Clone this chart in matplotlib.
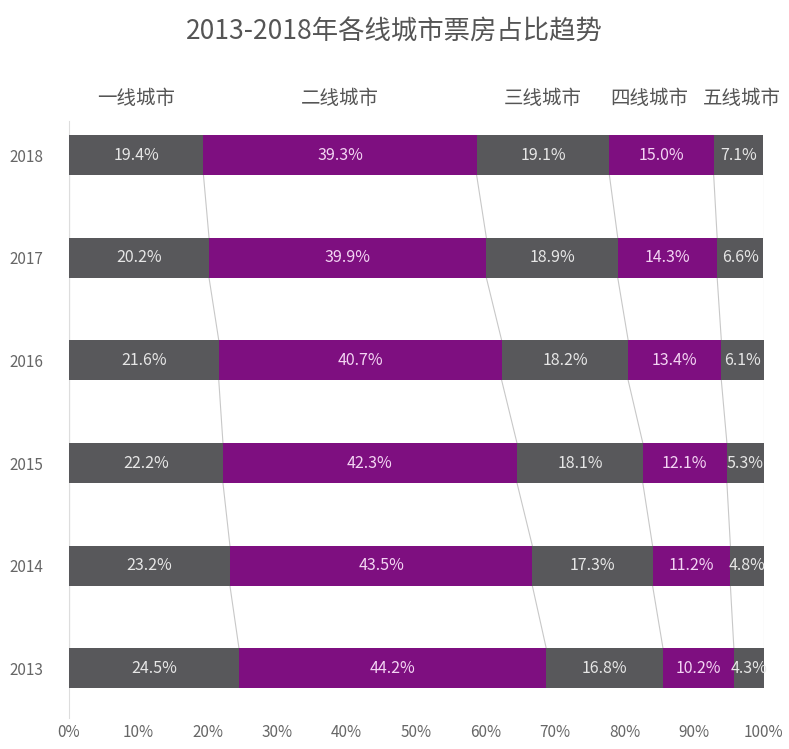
import matplotlib
matplotlib.use("Agg")
import matplotlib.pyplot as plt
import numpy as np

plt.rcParams["font.family"] = ["Noto Sans CJK SC", "DejaVu Sans"]

years = ["2013", "2014", "2015", "2016", "2017", "2018"]
tiers = ["一线城市", "二线城市", "三线城市", "四线城市", "五线城市"]
tier1 = [24.5, 23.2, 22.2, 21.6, 20.2, 19.4]
tier2 = [44.2, 43.5, 42.3, 40.7, 39.9, 39.3]
tier3 = [16.8, 17.3, 18.1, 18.2, 18.9, 19.1]
tier4 = [10.2, 11.2, 12.1, 13.4, 14.3, 15.0]
tier5 = [4.3, 4.8, 5.3, 6.1, 6.6, 7.1]

gray = "#58585b"
purple = "#7e0f80"
colors = [gray, purple, gray, purple, gray]
text_colors = ["#e6e6e6", "#f3d4f3", "#e6e6e6", "#f3d4f3", "#e6e6e6"]

series = np.array([tier1, tier2, tier3, tier4, tier5])
ypos = np.arange(len(years))
bar_h = 0.39

fig = plt.figure(figsize=(7.89, 7.49), dpi=100)
ax = fig.add_axes([0.087, 0.041, 0.881, 0.798])

left = np.zeros(len(years))
for k in range(len(tiers)):
    ax.barh(ypos, series[k], left=left, height=bar_h, color=colors[k], zorder=3)
    for i in range(len(years)):
        ax.text(left[i] + series[k][i] / 2, ypos[i], f"{series[k][i]:.1f}%",
                ha="center", va="center", fontsize=11.5, color=text_colors[k], zorder=4)
    left = left + series[k]

# connector lines between segment boundaries of neighbouring years
bounds = np.vstack([np.zeros(len(years)), np.cumsum(series, axis=0)])
bounds[-1] = 100
for b in bounds:
    for i in range(len(years) - 1):
        ax.plot([b[i], b[i + 1]], [ypos[i] + bar_h / 2, ypos[i + 1] - bar_h / 2],
                color="#c8c8c8", lw=0.8, zorder=2)

# tier names above the 2018 bar
top = series[:, -1]
centers = np.cumsum(top) - top / 2
offsets = [0, 0, 0, -1.8, 0.5]
for k in range(len(tiers)):
    ax.text(centers[k] + offsets[k], 5.56, tiers[k], ha="center", va="center",
            fontsize=14, color="#555555")

ax.set_xlim(0, 100)
ax.set_ylim(-0.49, 5.34)
ax.set_xticks(np.arange(0, 101, 10))
ax.set_xticklabels([f"{v}%" for v in range(0, 101, 10)])
ax.set_yticks(ypos)
ax.set_yticklabels(years)
ax.tick_params(axis="both", length=0, labelsize=11, colors="#666666")
ax.tick_params(axis="y", pad=18)
ax.tick_params(axis="x", pad=4)
for s in ["top", "right", "bottom"]:
    ax.spines[s].set_visible(False)
ax.spines["left"].set_color("#dddddd")
ax.spines["left"].set_linewidth(0.8)

fig.text(0.5, 0.957, "2013-2018年各线城市票房占比趋势", ha="center", va="center",
         fontsize=19, color="#555555")

fig.savefig("out.png", dpi=100)
